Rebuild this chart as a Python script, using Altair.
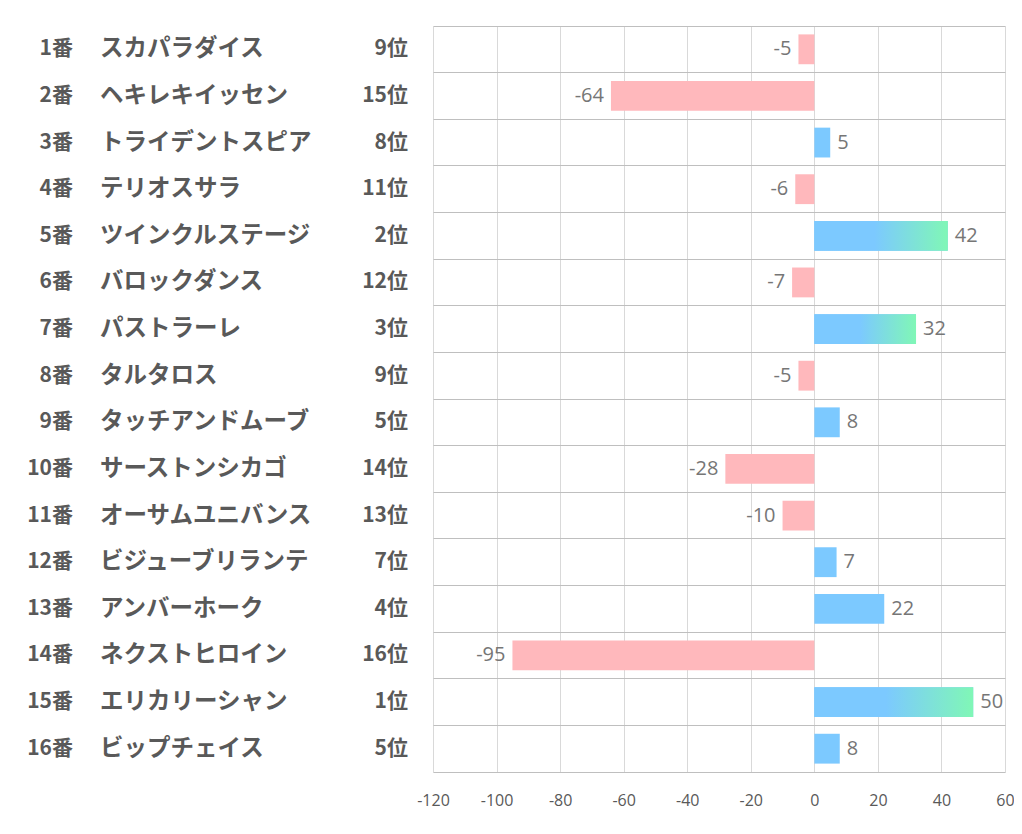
import altair as alt
import pandas as pd

numbers = ["1番", "2番", "3番", "4番", "5番", "6番", "7番", "8番",
           "9番", "10番", "11番", "12番", "13番", "14番", "15番", "16番"]
names = ["スカパラダイス", "ヘキレキイッセン", "トライデントスピア", "テリオスサラ",
         "ツインクルステージ", "バロックダンス", "パストラーレ", "タルタロス",
         "タッチアンドムーブ", "サーストンシカゴ", "オーサムユニバンス", "ビジューブリランテ",
         "アンバーホーク", "ネクストヒロイン", "エリカリーシャン", "ビップチェイス"]
ranks = ["9位", "15位", "8位", "11位", "2位", "12位", "3位", "9位",
         "5位", "14位", "13位", "7位", "4位", "16位", "1位", "5位"]
values = [-5, -64, 5, -6, 42, -7, 32, -5, 8, -28, -10, 7, 22, -95, 50, 8]
x_ticks = [-120, -100, -80, -60, -40, -20, 0, 20, 40, 60]

df = pd.DataFrame({"no": numbers, "name": names, "rank": ranks, "value": values})

PINK = "#FFB8BC"
BLUE = "#7CC9FF"
GREEN = "#80F7B6"
TXT = "#595959"
LBL = "#767676"
FONT = "Noto Sans CJK JP"

y_enc = alt.Y(
    "no:N", sort=numbers,
    scale=alt.Scale(paddingInner=0, paddingOuter=0),
    axis=alt.Axis(labels=False, ticks=False, domain=False, grid=True,
                  gridColor="#BFBFBF", gridWidth=1, bandPosition=0, title=None),
)
x_enc = alt.X(
    "value:Q",
    scale=alt.Scale(domain=[-120, 60], nice=False, zero=True),
    axis=alt.Axis(values=x_ticks, grid=True, gridColor="#D9D9D9", ticks=False,
                  domainColor="#BFBFBF", labelColor=TXT, labelFontSize=16,
                  labelFont="Open Sans", labelPadding=20, title=None,
                  labelFlush=False, labelExpr="toString(datum.value)"),
)

base = alt.Chart(df).encode(y=y_enc).transform_calculate(lbl="toString(datum.value)")

neg_bars = base.mark_bar(height={"band": 0.64}, color=PINK).encode(x=x_enc).transform_filter("datum.value < 0")
pos_bars = base.mark_bar(height={"band": 0.64}, color=BLUE).encode(x=x_enc).transform_filter("datum.value > 0")
grad = alt.Gradient(
    gradient="linear",
    stops=[alt.GradientStop(color=BLUE, offset=0),
           alt.GradientStop(color=BLUE, offset=0.45),
           alt.GradientStop(color=GREEN, offset=1)],
    x1=0, x2=1, y1=0, y2=0,
)
grad_bars = base.mark_bar(height={"band": 0.64}, color=grad).encode(x=x_enc).transform_filter("datum.value >= 30")

neg_lbl = base.mark_text(align="right", baseline="middle", dx=-7, fontSize=20,
                         font="Open Sans", color=LBL).encode(
    x=x_enc, text="lbl:N").transform_filter("datum.value < 0")
pos_lbl = base.mark_text(align="left", baseline="middle", dx=7, fontSize=20,
                         font="Open Sans", color=LBL).encode(
    x=x_enc, text="lbl:N").transform_filter("datum.value > 0")

no_txt = base.mark_text(align="right", baseline="middle", fontSize=21, fontWeight="bold",
                        font=FONT, color=TXT).encode(x=alt.value(-360), text="no:N")
name_txt = base.mark_text(align="left", baseline="middle", fontSize=23.5, fontWeight="bold",
                          font=FONT, color=TXT).encode(x=alt.value(-333), text="name:N")
rank_txt = base.mark_text(align="right", baseline="middle", fontSize=21, fontWeight="bold",
                          font=FONT, color=TXT).encode(x=alt.value(-25), text="rank:N")

chart = alt.layer(
    neg_bars, pos_bars, grad_bars, neg_lbl, pos_lbl, no_txt, name_txt, rank_txt
).properties(
    width=572, height=746,
    autosize=alt.AutoSizeParams(type="none"),
    padding={"left": 425, "top": 18, "right": 9, "bottom": 50},
    background="white",
).configure_view(stroke=None)

chart.save("out.html", embed_options={"renderer": "svg", "actions": False})
